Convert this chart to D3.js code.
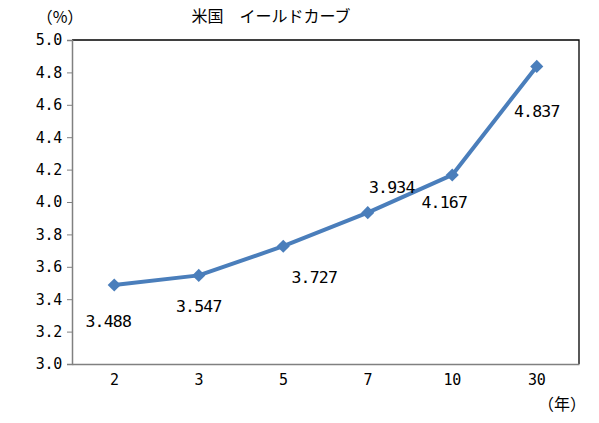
<!DOCTYPE html>
<html lang="ja">
<head>
<meta charset="utf-8"/>
<title>米国 イールドカーブ</title>
<script src="https://d3js.org/d3.v7.min.js"></script>
<style>
  body { margin: 0; background: #fff; }
  text { font-family: "Noto Sans CJK JP", "DejaVu Sans", sans-serif; fill: #000; }
  .num { font-family: "DejaVu Sans Mono", monospace; }
  .axis .domain { stroke: #808080; }
  .axis line { stroke: #808080; }
</style>
</head>
<body>
<div id="chart"></div>
<script>
  // data
  var maturities = ["2", "3", "5", "7", "10", "30"];
  var yields = [3.488, 3.547, 3.727, 3.934, 4.167, 4.837];
  var yTicks = [3.0, 3.2, 3.4, 3.6, 3.8, 4.0, 4.2, 4.4, 4.6, 4.8, 5.0];
  // where each value label sits, relative to its point
  var labelOffsets = [[-6, 36], [0, 31], [31, 31], [24, -25], [-8, 27], [0, 45]];

  var width = 599, height = 423;
  var m = {top: 40, right: 20, bottom: 59, left: 72};
  var w = width - m.left - m.right,
      h = height - m.top - m.bottom;

  var svg = d3.select("#chart").append("svg")
    .attr("width", width)
    .attr("height", height);

  var g = svg.append("g").attr("transform", "translate(" + m.left + "," + m.top + ")");

  var x = d3.scaleBand().domain(maturities).range([0, w]);
  var y = d3.scaleLinear().domain([3.0, 5.0]).range([h, 0]);

  // top and right border of plot area
  g.append("path")
    .attr("d", "M0,0H" + w + "V" + h)
    .attr("fill", "none")
    .attr("stroke", "#000")
    .attr("stroke-width", 1.3);

  // y axis
  var yAxis = g.append("g")
    .attr("class", "axis")
    .call(d3.axisLeft(y).tickValues(yTicks).tickFormat(d3.format(".1f")).tickSizeOuter(0).tickSize(5).tickPadding(5));
  yAxis.selectAll("text")
    .attr("class", "num")
    .attr("font-size", 15)
    .attr("letter-spacing", -0.3);
  yAxis.select(".domain").attr("stroke-width", 1.5);

  // x axis
  var xAxis = g.append("g")
    .attr("class", "axis")
    .attr("transform", "translate(0," + h + ")")
    .call(d3.axisBottom(x).tickSize(0).tickPadding(10));
  xAxis.selectAll("text")
    .attr("class", "num")
    .attr("font-size", 15)
    .attr("letter-spacing", -0.3);
  xAxis.select(".domain").attr("stroke-width", 1.5);

  // line
  var line = d3.line()
    .x(function(d, i) { return x(maturities[i]) + x.bandwidth() / 2; })
    .y(function(d) { return y(d); });

  g.append("path")
    .datum(yields)
    .attr("d", line)
    .attr("fill", "none")
    .attr("stroke", "#4a7ebb")
    .attr("stroke-width", 4)
    .attr("stroke-linejoin", "round");

  // diamond markers
  g.selectAll(".pt")
    .data(yields)
    .enter().append("path")
    .attr("class", "pt")
    .attr("d", d3.symbol().type(d3.symbolDiamond2).size(110))
    .attr("transform", function(d, i) {
      return "translate(" + (x(maturities[i]) + x.bandwidth() / 2) + "," + y(d) + ")";
    })
    .attr("fill", "#4a7ebb");

  // value labels
  g.selectAll(".lbl")
    .data(yields)
    .enter().append("text")
    .attr("class", "lbl num")
    .attr("x", function(d, i) { return x(maturities[i]) + x.bandwidth() / 2 + labelOffsets[i][0]; })
    .attr("y", function(d, i) { return y(d) + labelOffsets[i][1]; })
    .attr("dy", "0.35em")
    .attr("text-anchor", "middle")
    .attr("font-size", 16.5)
    .attr("letter-spacing", -0.8)
    .text(function(d) { return d3.format(".3f")(d); });

  // title and unit labels
  svg.append("text")
    .attr("x", 271).attr("y", 22)
    .attr("text-anchor", "middle")
    .attr("font-size", 16)
    .text("米国　イールドカーブ");

  svg.append("text")
    .attr("x", 60).attr("y", 23)
    .attr("text-anchor", "middle")
    .attr("font-size", 16)
    .text("（%）");

  svg.append("text")
    .attr("x", 562).attr("y", 410)
    .attr("text-anchor", "middle")
    .attr("font-size", 16)
    .text("（年）");
</script>
</body>
</html>
